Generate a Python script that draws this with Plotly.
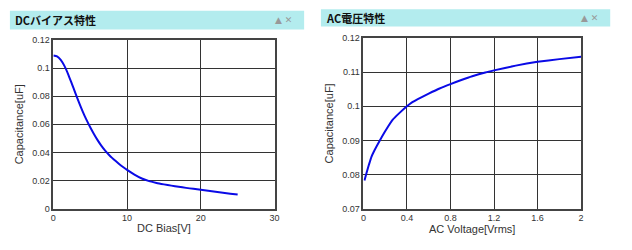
import plotly.graph_objects as go

# DC bias characteristic
dc_bias = [0, 0.5, 1, 1.5, 2, 2.5, 3, 3.5, 4, 4.5, 5, 5.5, 6, 6.5, 7, 7.5, 8, 8.5, 9, 9.5, 10,
           11, 12, 13, 14, 15, 16, 17, 18, 19, 20, 21, 22, 23, 24, 25]
dc_cap = [0.109, 0.1083, 0.1059, 0.1016, 0.0958, 0.089, 0.082, 0.0752, 0.0689, 0.0631, 0.0579, 0.0531,
          0.0487, 0.0448, 0.0414, 0.0385, 0.0359, 0.0336, 0.0314, 0.0294, 0.0275,
          0.0242, 0.0214, 0.0195, 0.0182, 0.0172, 0.0163, 0.0155, 0.0147, 0.0140, 0.0133,
          0.0126, 0.0119, 0.0113, 0.0106, 0.0100]

# AC voltage characteristic
ac_volt = [0.01, 0.03, 0.05, 0.075, 0.1, 0.151, 0.2, 0.27, 0.33, 0.4, 0.45, 0.5, 0.6, 0.7, 0.8, 0.9,
           1.0, 1.12, 1.2, 1.4, 1.6, 1.8, 2.0]
ac_cap = [0.0783, 0.0806, 0.0828, 0.0853, 0.0870, 0.0900, 0.0927, 0.0961, 0.0980, 0.1000, 0.1012, 0.1021,
          0.1037, 0.1052, 0.1065, 0.1077, 0.1088, 0.1099, 0.1105, 0.1119, 0.1130, 0.1138, 0.1145]

W, H = 632, 250
def px(x): return x / W
def py(y): return 1 - y / H

fig = go.Figure()
fig.add_trace(go.Scatter(x=dc_bias, y=dc_cap, mode="lines",
                         line=dict(color="#0a0ae6", width=2, shape="spline", smoothing=0.6),
                         xaxis="x", yaxis="y", showlegend=False))
fig.add_trace(go.Scatter(x=ac_volt, y=ac_cap, mode="lines",
                         line=dict(color="#0a0ae6", width=2, shape="spline", smoothing=0.4),
                         xaxis="x2", yaxis="y2", showlegend=False))

tickfont = dict(family="Liberation Sans, Arial, sans-serif", size=9, color="#333")
titlefont = dict(family="Liberation Sans, Arial, sans-serif", size=11, color="#333")
common = dict(showline=True, mirror=True, linecolor="#444", linewidth=1.5, showgrid=True,
              gridcolor="#333", gridwidth=1, zeroline=False, tickfont=tickfont, ticks="")

fig.update_layout(
    width=W, height=H, margin=dict(l=0, r=0, t=0, b=0),
    paper_bgcolor="white", plot_bgcolor="white",
    xaxis=dict(domain=[px(51), px(275)], range=[0, 30], tickvals=[0, 10, 20, 30], anchor="y",
               title=dict(text="DC Bias[V]", font=titlefont, standoff=2), **common),
    yaxis=dict(domain=[py(212), py(36.5)], range=[0, 0.12], tickvals=[0, 0.02, 0.04, 0.06, 0.08, 0.1, 0.12],
               ticktext=["0", "0.02", "0.04", "0.06", "0.08", "0.1", "0.12"], anchor="x",
               title=dict(text="Capacitance[uF]", font=titlefont, standoff=6), **common),
    xaxis2=dict(domain=[px(365), px(585.5)], range=[0, 2], tickvals=[0, 0.4, 0.8, 1.2, 1.6, 2],
                ticktext=["0", "0.4", "0.8", "1.2", "1.6", "2"], anchor="y2",
                title=dict(text="AC Voltage[Vrms]", font=titlefont, standoff=2), **common),
    yaxis2=dict(domain=[py(212.3), py(34.3)], range=[0.07, 0.12],
                tickvals=[0.07, 0.08, 0.09, 0.1, 0.11, 0.12],
                ticktext=["0.07", "0.08", "0.09", "0.1", "0.11", "0.12"], anchor="x2",
                title=dict(text="Capacitance[uF]", font=titlefont, standoff=6), **common),
)

# title bars
bars = [(7, 305, 6, 25.5, "DCバイアス特性"), (322, 615, 4.5, 22.5, "AC電圧特性")]
for x0, x1, y0, y1, txt in bars:
    fig.add_shape(type="rect", xref="paper", yref="paper", x0=px(x0), x1=px(x1), y0=py(y1), y1=py(y0),
                  fillcolor="#b3ecee", line=dict(width=0), layer="below")
    fig.add_annotation(xref="paper", yref="paper", x=px(x0 + 3), y=py((y0 + y1) / 2), xanchor="left", yanchor="middle",
                       text="<b>" + txt + "</b>", showarrow=False,
                       font=dict(family="Noto Sans CJK JP", size=11, color="#111"))
    fig.add_annotation(xref="paper", yref="paper", x=px(x1 - 10), y=py((y0 + y1) / 2), xanchor="right", yanchor="middle",
                       text="▲ ✕", showarrow=False,
                       font=dict(family="DejaVu Sans", size=9, color="#999"))

fig.write_html("out.html")
